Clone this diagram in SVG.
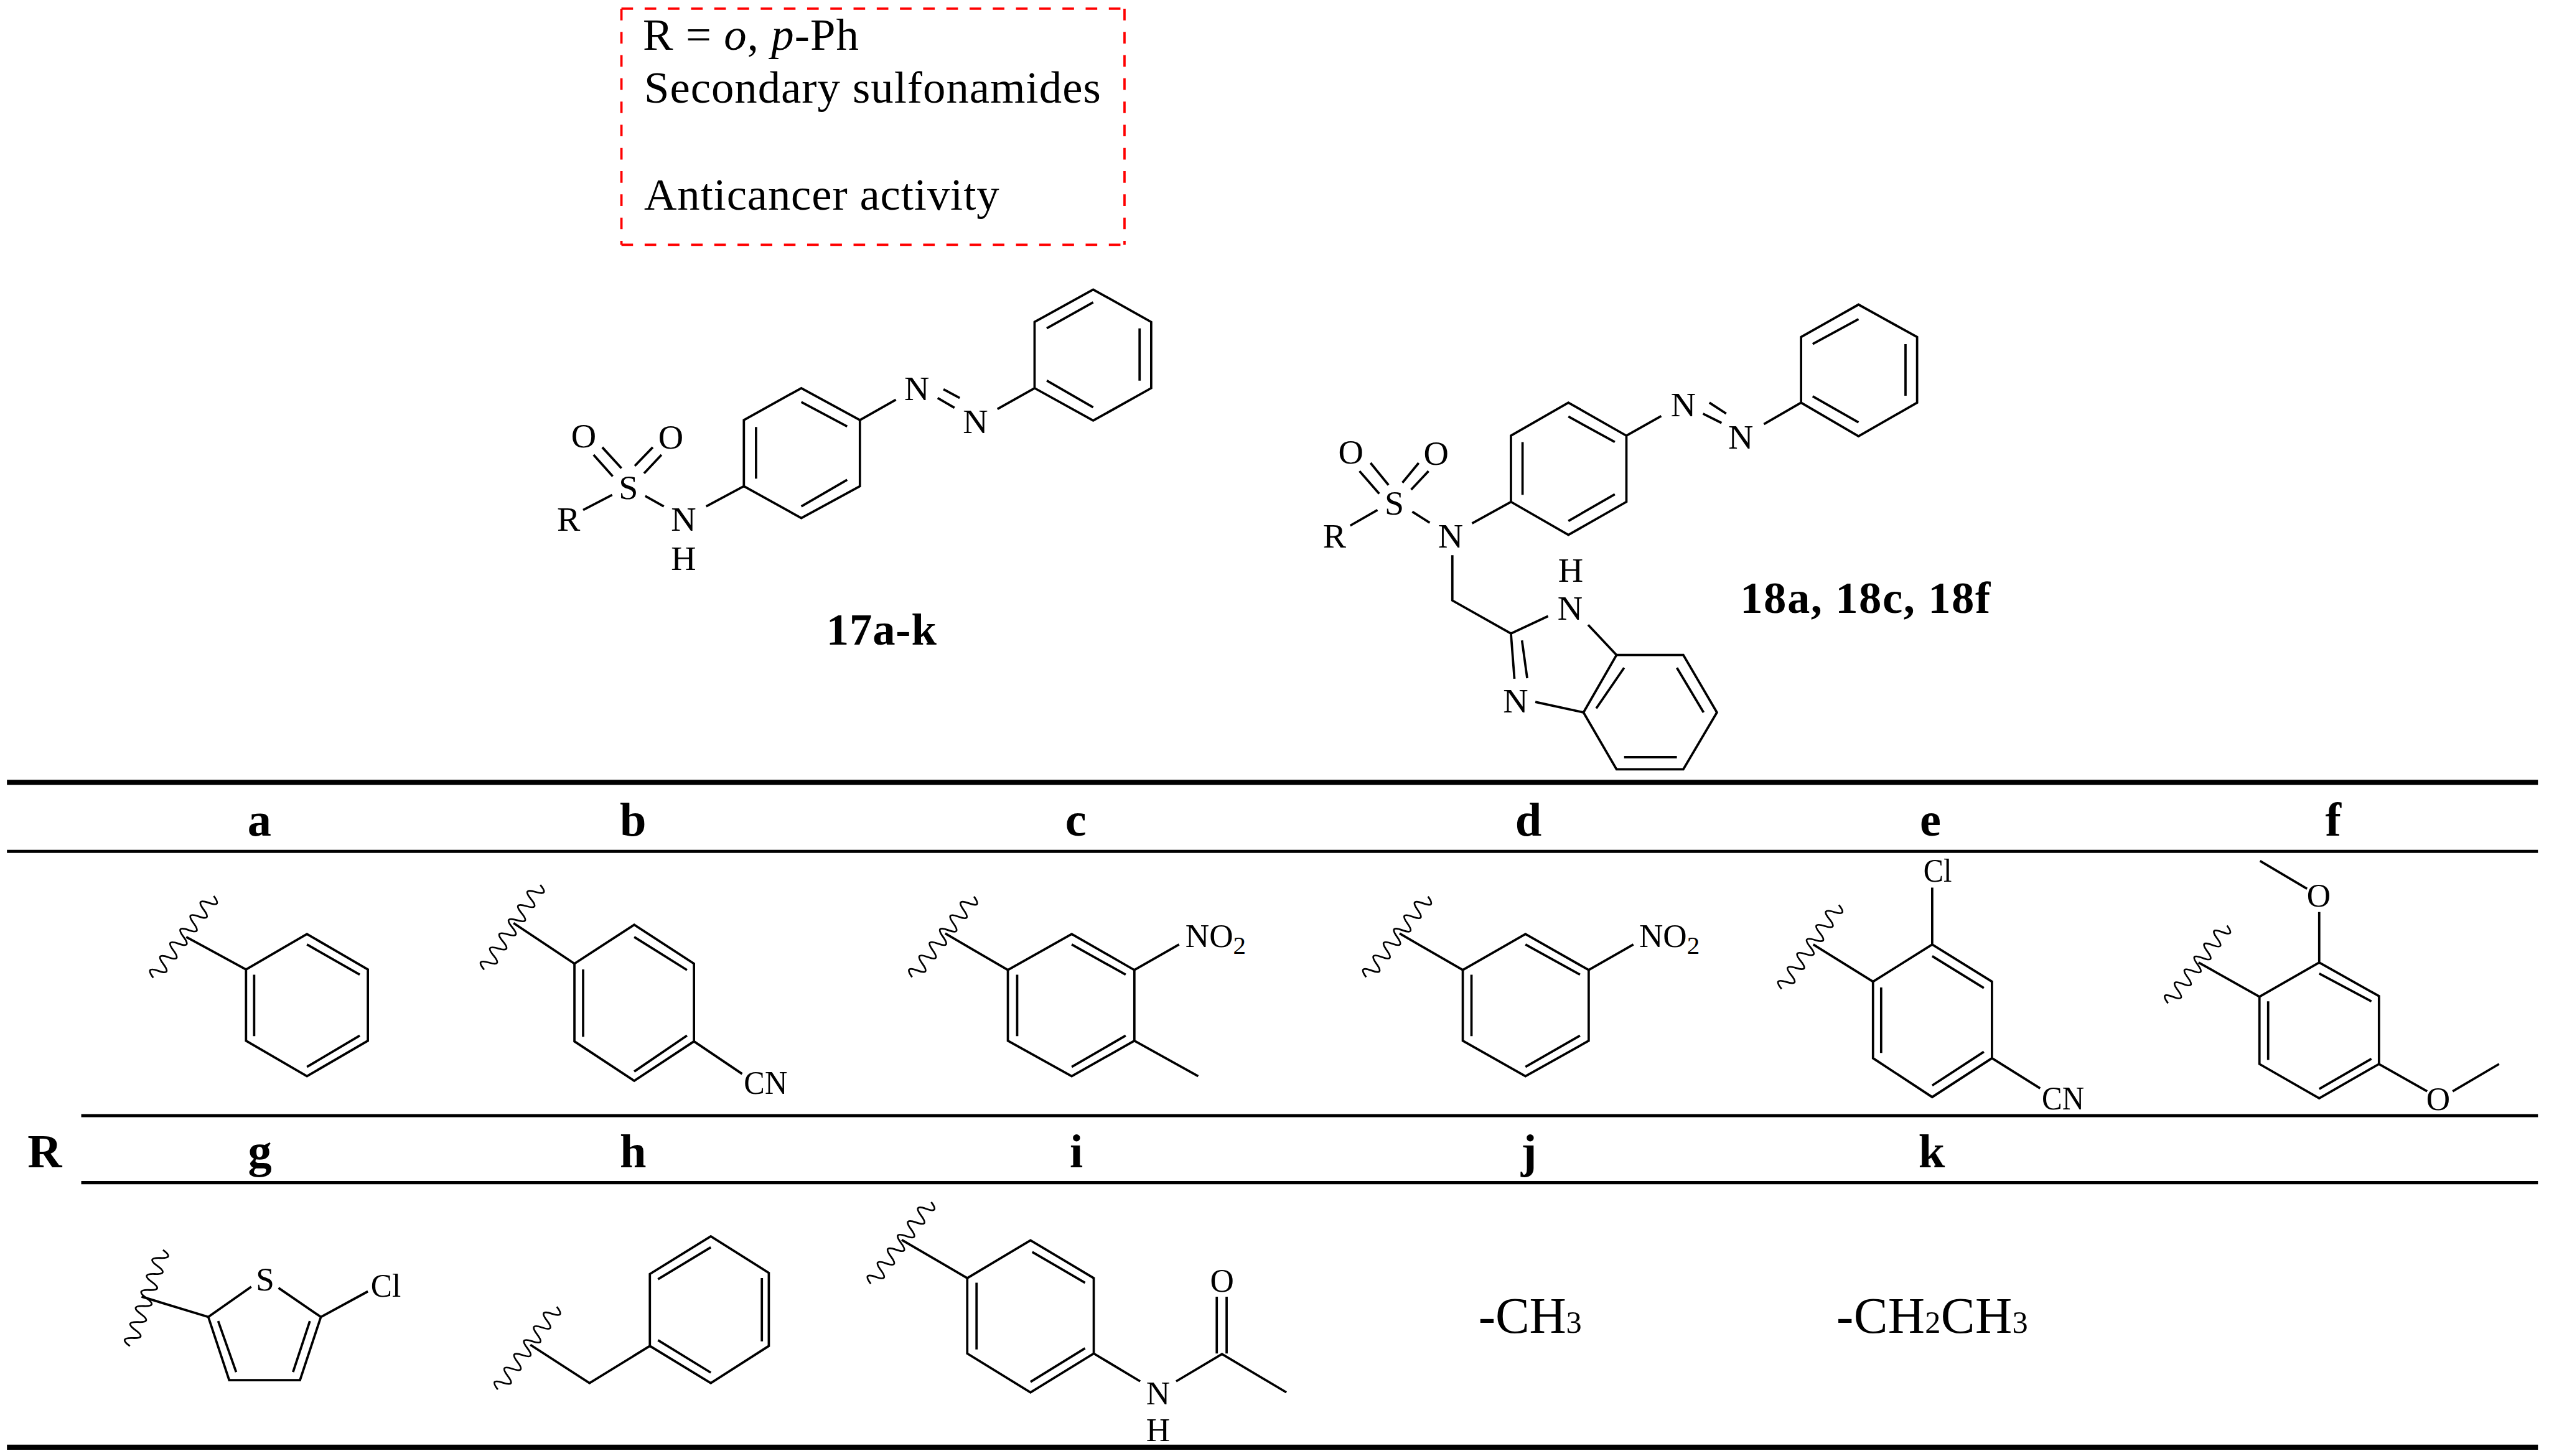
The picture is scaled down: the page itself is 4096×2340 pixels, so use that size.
<svg xmlns="http://www.w3.org/2000/svg" xmlns:xlink="http://www.w3.org/1999/xlink" width="4096" height="2340" viewBox="0 0 4096 2340">
<style>
text{font-family:"Liberation Serif","Times New Roman",serif;fill:#000}
.b{fill:none;stroke:#000;stroke-width:4;stroke-linejoin:miter}
.w{fill:none;stroke:#000;stroke-width:3}
.r{stroke:#000;fill:none}
.d{fill:none;stroke:#f00;stroke-width:4;stroke-dasharray:20 20}
.t{font-size:78px}
.a{font-size:60px;text-anchor:middle}
.s{font-size:57px}
.h{font-size:82px;font-weight:bold;text-anchor:middle}
.p{font-size:78px;font-weight:bold}
.c{font-size:88px}
</style>
<defs>
<path id="wavy" class="w" d="M-88 0q7.3-24 14.6 0t14.6 0t14.6 0t14.6 0t14.6 0t14.6 0t14.6 0t14.6 0t14.6 0t14.6 0t14.6 0t14.6 0"/>
</defs>
<rect width="4096" height="2340" fill="#fff"/>
<g transform="scale(0.93239)">
<g id="note">
<path class="d" d="M1071 15V422M1071 422H1938M1071 15H1938M1938 15V422"/>
<text class="t" x="1108" y="86" textLength="372">R = <tspan font-style="italic">o</tspan>, <tspan font-style="italic">p</tspan>-Ph</text>
<text class="t" x="1110" y="177" textLength="787">Secondary sulfonamides</text>
<text class="t" x="1110" y="361" textLength="612">Anticancer activity</text>
</g>
<g id="mol17">
<path class="b" d="M1282 724L1381 669L1482 724V838L1381 893L1282 838ZM1381 693L1460 735M1303 736V825M1381 873L1460 827M1783 555L1884 499L1984 555V669L1884 725L1783 669ZM1884 521L1804 566M1964 566V656M1804 656L1884 702M1482 724L1544 689M1616 686L1645 703M1626 671L1654 686M1719 705L1783 669M1005 879L1055 853M1112 855L1144 873M1217 873L1282 838M1038 771L1071 807M1023 784L1056 821M1125 771L1094 803M1140 784L1110 816"/>
<text class="a" x="1580" y="690">N</text><text class="a" x="1681" y="747">N</text>
<text class="a" x="1006" y="771">O</text><text class="a" x="1156" y="773">O</text>
<text class="a" x="1083" y="860">S</text><text class="a" x="980" y="915">R</text>
<text class="a" x="1178" y="915">N</text><text class="a" x="1178" y="982">H</text>
<text class="p" x="1424" y="1111" textLength="190">17a-k</text>
</g>
<g id="mol18">
<path class="b" d="M2604 751L2703 694L2803 751V865L2703 922L2604 865ZM2703 718L2783 762M2624 762V853M2783 852L2703 898M3104 581L3203 525L3304 581V694L3203 752L3104 694ZM3203 550L3124 593M3284 593V682M3203 728L3124 683M2803 751L2863 717M2946 694L2975 713M2935 713L2967 729M3040 731L3104 694M2327 906L2374 879M2434 882L2464 901M2537 902L2604 865M2362 798L2393 836M2343 812L2377 851M2445 798L2417 832M2462 812L2432 844M2503 957V1035L2604 1092L2668 1062M2737 1077L2786 1129M2604 1092L2610 1170M2623 1104L2632 1169M2646 1210L2729 1228M2786 1129H2901L2959 1228L2901 1326H2786L2729 1228ZM2799 1151L2751 1221M2890 1151L2936 1228M2799 1305H2890"/>
<text class="a" x="2901" y="717">N</text><text class="a" x="3000" y="773">N</text>
<text class="a" x="2328" y="799">O</text><text class="a" x="2475" y="801">O</text>
<text class="a" x="2403" y="887">S</text><text class="a" x="2300" y="944">R</text>
<text class="a" x="2500" y="944">N</text>
<text class="a" x="2707" y="1003">H</text><text class="a" x="2706" y="1068">N</text>
<text class="a" x="2612" y="1228">N</text>
<text class="p" x="2999" y="1056" textLength="431">18a, 18c, 18f</text>
</g>
<g id="table">
<path class="r" stroke-width="9" d="M12 1348.5H4374M12 2494.5H4374"/>
<path class="r" stroke-width="5.5" d="M12 1467.5H4374M140 1923H4374M140 2038.5H4374"/>
<text class="h" x="447" y="1440">a</text><text class="h" x="1091" y="1440">b</text><text class="h" x="1854" y="1440">c</text><text class="h" x="2634" y="1440">d</text><text class="h" x="3327" y="1440">e</text><text class="h" x="4021" y="1440">f</text>
<text class="h" x="77" y="2012">R</text>
<text class="h" x="448" y="2012">g</text><text class="h" x="1091" y="2012">h</text><text class="h" x="1855" y="2012">i</text><text class="h" x="2635" y="2012">j</text><text class="h" x="3329" y="2012">k</text>
</g>
<g id="sub-a">
<use xlink:href="#wavy" href="#wavy" transform="translate(316.5 1614.5) rotate(-53.5)"/>
<path class="b" d="M424 1671L529 1610L634 1671V1794L529 1855L424 1794ZM529 1628L620 1680M438 1680V1786M529 1839L620 1785M424 1671L321 1615"/>
</g>
<g id="sub-b">
<use xlink:href="#wavy" href="#wavy" transform="translate(883 1598) rotate(-56.5)"/>
<path class="b" d="M990 1661L1093 1594L1196 1661V1795L1093 1863L990 1795ZM1093 1615L1184 1672M1005 1671V1787M1093 1847L1184 1785M990 1661L885 1591M1196 1795L1279 1851"/>
<text class="s" x="1282" y="1885" textLength="75" lengthAdjust="spacingAndGlyphs">CN</text>
</g>
<g id="sub-c">
<use xlink:href="#wavy" href="#wavy" transform="translate(1625.5 1614.5) rotate(-52.5)"/>
<path class="b" d="M1737 1672L1847 1610L1955 1672V1794L1847 1855L1737 1794ZM1847 1628L1940 1680M1753 1680V1786M1847 1839L1940 1785M1737 1672L1629 1609M1955 1672L2032 1628M1955 1794L2065 1855"/>
<text class="s" x="2043" y="1632">NO<tspan font-size="44" dy="12">2</tspan></text>
</g>
<g id="sub-d">
<use xlink:href="#wavy" href="#wavy" transform="translate(2408 1614.5) rotate(-52.5)"/>
<path class="b" d="M2521 1672L2629 1610L2738 1672V1794L2629 1855L2521 1794ZM2629 1628L2723 1680M2536 1680V1786M2629 1839L2723 1785M2521 1672L2412 1609M2738 1672L2815 1628"/>
<text class="s" x="2825" y="1632">NO<tspan font-size="44" dy="12">2</tspan></text>
</g>
<g id="sub-e">
<use xlink:href="#wavy" href="#wavy" transform="translate(3120 1632) rotate(-55.7)"/>
<path class="b" d="M3228 1692L3330 1628L3433 1692V1824L3330 1891L3228 1824ZM3330 1648L3419 1703M3242 1702V1815M3330 1871L3419 1813M3228 1692L3125 1628M3330 1628V1530M3433 1824L3516 1876"/>
<text class="s" x="3315" y="1520" textLength="49" lengthAdjust="spacingAndGlyphs">Cl</text>
<text class="s" x="3519" y="1912" textLength="73" lengthAdjust="spacingAndGlyphs">CN</text>
</g>
<g id="sub-f">
<use xlink:href="#wavy" href="#wavy" transform="translate(3787.5 1662) rotate(-52.8) scale(.96 1)"/>
<path class="b" d="M3894 1718L3997 1659L4100 1717V1834L3997 1893L3894 1834ZM3997 1678L4087 1726M3909 1726V1827M3997 1877L4087 1825M3894 1718L3789 1659M3997 1659V1572M3976 1532L3895 1484M4100 1834L4183 1881M4227 1881L4307 1834"/>
<text class="s" x="3996" y="1563" text-anchor="middle">O</text>
<text class="s" x="4202" y="1913" text-anchor="middle">O</text>
</g>
<g id="sub-g">
<use xlink:href="#wavy" href="#wavy" transform="translate(252.5 2237) rotate(-71)"/>
<path class="b" d="M433 2218L359 2270L395 2379H517L553 2270L480 2220M376 2277L407 2365M534 2277L505 2365M553 2270L634 2226M359 2270L244 2235"/>
<text class="s" x="457" y="2224" text-anchor="middle">S</text>
<text class="s" x="639" y="2235" textLength="52" lengthAdjust="spacingAndGlyphs">Cl</text>
</g>
<g id="sub-h">
<use xlink:href="#wavy" href="#wavy" transform="translate(909 2323.5) rotate(-54.5)"/>
<path class="b" d="M1120 2196L1225 2131L1325 2194V2320L1225 2384L1120 2320ZM1225 2150L1134 2205M1313 2203V2312M1225 2366L1134 2310M914 2318L1016 2384L1120 2320"/>
</g>
<g id="sub-i">
<use xlink:href="#wavy" href="#wavy" transform="translate(1553 2142) rotate(-53.5)"/>
<path class="b" d="M1667 2203L1776 2138L1885 2203V2333L1776 2400L1667 2333ZM1779 2158L1870 2211M1683 2211V2326M1776 2382L1870 2324M1667 2203L1554 2137M1885 2333L1965 2381M2027 2381L2106 2334L2217 2400M2097 2235V2333M2114 2235V2333"/>
<text class="s" x="2106" y="2226" text-anchor="middle">O</text>
<text class="s" x="1996" y="2421" text-anchor="middle">N</text>
<text class="s" x="1996" y="2484" text-anchor="middle">H</text>
</g>
<g id="sub-j"><text class="c" x="2548" y="2297" textLength="178">-CH<tspan font-size="54">3</tspan></text></g>
<g id="sub-k"><text class="c" x="3165" y="2297" textLength="330">-CH<tspan font-size="54">2</tspan>CH<tspan font-size="54">3</tspan></text></g>
</g>
</svg>
